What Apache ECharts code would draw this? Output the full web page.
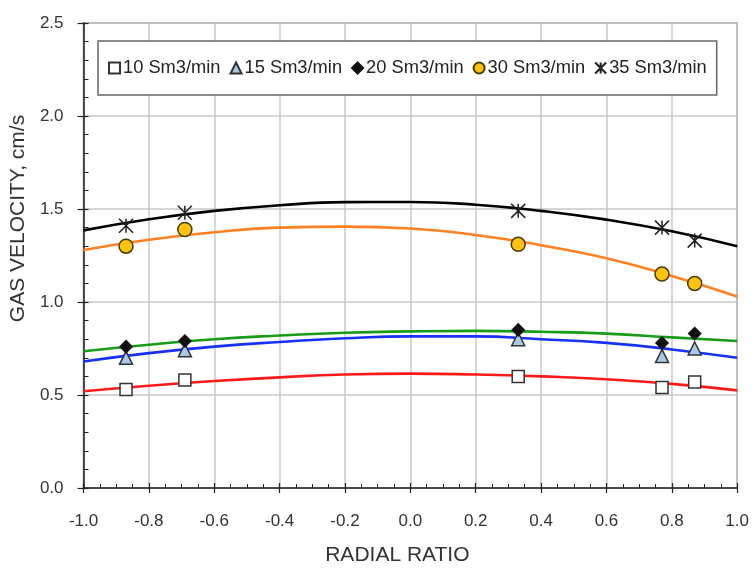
<!DOCTYPE html>
<html>
<head>
<meta charset="utf-8">
<script src="https://cdn.jsdelivr.net/npm/echarts@6/dist/echarts.min.js"></script>
<style>
html,body{margin:0;padding:0;background:#fff;}
#chart{width:752px;height:571px;}
</style>
</head>
<body>
<div id="chart"></div>
<script>
// Measured points
const xPoints = [-0.87, -0.69, 0.33, 0.77, 0.87];
const v10 = [0.53, 0.58, 0.60, 0.54, 0.57];
const v15 = [0.70, 0.74, 0.80, 0.71, 0.75];
const v20 = [0.76, 0.79, 0.85, 0.78, 0.83];
const v30 = [1.30, 1.39, 1.31, 1.15, 1.10];
const v35 = [1.41, 1.48, 1.49, 1.40, 1.33];

// Fitted curves
const xCurve = [-1.0, -0.8, -0.6, -0.4, -0.2, 0.0, 0.2, 0.4, 0.6, 0.8, 1.0];
const fit10 = [0.52, 0.55, 0.575, 0.595, 0.61, 0.615, 0.61, 0.60, 0.585, 0.56, 0.525];
const fit15 = [0.68, 0.725, 0.76, 0.785, 0.805, 0.815, 0.815, 0.80, 0.78, 0.745, 0.70];
const fit20 = [0.735, 0.77, 0.80, 0.82, 0.835, 0.842, 0.845, 0.84, 0.83, 0.81, 0.79];
const fit30 = [1.28, 1.335, 1.375, 1.40, 1.405, 1.395, 1.36, 1.305, 1.235, 1.14, 1.03];
const fit35 = [1.385, 1.445, 1.49, 1.52, 1.537, 1.538, 1.523, 1.49, 1.443, 1.38, 1.30];

const names = ['10 Sm3/min', '15 Sm3/min', '20 Sm3/min', '30 Sm3/min', '35 Sm3/min'];
const xTicks = [-1.0, -0.8, -0.6, -0.4, -0.2, 0.0, 0.2, 0.4, 0.6, 0.8, 1.0];
const yTicks = [0.0, 0.5, 1.0, 1.5, 2.0, 2.5];

const FONT = '"Liberation Sans", Arial, sans-serif';
const pairs = a => a.map((v, i) => [xPoints[i], v]);
const cpairs = a => a.map((v, i) => [xCurve[i], v]);

const markers = [
  {data: v10, symbol: 'rect', size: 12, fill: '#ffffff', border: '#333333'},
  {data: v15, symbol: 'triangle', size: 13, fill: '#a9c9e8', border: '#333333'},
  {data: v20, symbol: 'diamond', size: 12, fill: '#111111', border: '#111111'},
  {data: v30, symbol: 'circle', size: 14, fill: '#ffc20e', border: '#4a3a00'},
  {data: v35, symbol: 'path://M0,0L10,10M10,0L0,10M5,0L5,10', size: 14, fill: 'rgba(0,0,0,0)', border: '#222222'}
];
const curves = [
  {data: fit10, color: '#ff1a1a'},
  {data: fit15, color: '#1530ff'},
  {data: fit20, color: '#169c16'},
  {data: fit30, color: '#ff8020'},
  {data: fit35, color: '#000000'}
];

const series = [];
curves.forEach((c, i) => {
  series.push({
    name: names[i] + ' fit', type: 'line', data: cpairs(c.data),
    smooth: 0.5, showSymbol: false, symbol: 'none', silent: true,
    lineStyle: {color: c.color, width: 2.6}, z: 2,
    xAxisIndex: 0, yAxisIndex: 0
  });
});
markers.forEach((m, i) => {
  series.push({
    name: names[i], type: 'scatter', data: pairs(m.data),
    symbol: m.symbol, symbolSize: m.size,
    itemStyle: {color: m.fill, borderColor: m.border, borderWidth: 1.5, opacity: 1},
    z: 5, xAxisIndex: 0, yAxisIndex: 0
  });
});

const fmt = v => Number(v).toFixed(1);

const option = {
  animation: false,
  backgroundColor: '#ffffff',
  grid: {left: 82, right: 14, top: 23, bottom: 80, show: true, borderColor: '#7a7a7a', borderWidth: 1.5, backgroundColor: 'transparent'},
  legend: {
    data: names,
    left: 98, top: 41,
    orient: 'horizontal',
    itemWidth: 11, itemHeight: 11, itemGap: 9,
    padding: [18, 10, 18, 10],
    borderColor: '#666666', borderWidth: 1.5, backgroundColor: '#ffffff',
    textStyle: {fontFamily: FONT, fontSize: 18.3, color: '#222222', padding: [0, 0, 0, -2]},
    z: 10
  },
  xAxis: [
    {
      type: 'value', min: xTicks[0], max: xTicks[xTicks.length - 1], interval: 0.2,
      position: 'bottom',
      name: 'RADIAL RATIO', nameLocation: 'middle', nameGap: 57,
      nameTextStyle: {fontFamily: FONT, fontSize: 21, color: '#333333', padding: [0, 26, 0, 0]},
      axisLine: {show: true, onZero: false, lineStyle: {color: '#222222', width: 1.5}},
      axisTick: {show: true, inside: false, length: 5, lineStyle: {color: '#222222', width: 1.2}},
      minorTick: {show: false},
      axisLabel: {fontFamily: FONT, fontSize: 17, color: '#333333', margin: 25, formatter: fmt},
      splitLine: {show: true, lineStyle: {color: '#c8c8c8', width: 1.5}}
    },
    {
      type: 'value', min: xTicks[0], max: xTicks[xTicks.length - 1], interval: 0.2,
      position: 'bottom', offset: 0,
      axisLine: {show: false, onZero: false},
      axisTick: {show: true, inside: true, length: 5, lineStyle: {color: '#222222', width: 1.2}},
      minorTick: {show: true, splitNumber: 4, length: 4, lineStyle: {color: '#222222', width: 1}},
      axisLabel: {show: false},
      splitLine: {show: false}
    }
  ],
  yAxis: [
    {
      type: 'value', min: yTicks[0], max: yTicks[yTicks.length - 1], interval: 0.5,
      position: 'left',
      name: 'GAS VELOCITY, cm/s', nameLocation: 'middle', nameGap: 31, nameRotate: 90,
      nameTextStyle: {fontFamily: FONT, fontSize: 21, color: '#333333', padding: [0, 0, 0, 74]},
      axisLine: {show: true, onZero: false, lineStyle: {color: '#222222', width: 1.5}},
      axisTick: {show: true, inside: false, length: 6, lineStyle: {color: '#222222', width: 1.2}},
      minorTick: {show: false},
      axisLabel: {fontFamily: FONT, fontSize: 17, color: '#333333', margin: 20, formatter: fmt},
      splitLine: {show: true, lineStyle: {color: '#c8c8c8', width: 1.5}}
    },
    {
      type: 'value', min: yTicks[0], max: yTicks[yTicks.length - 1], interval: 0.5,
      position: 'left', offset: 0,
      axisLine: {show: false, onZero: false},
      axisTick: {show: true, inside: true, length: 5, lineStyle: {color: '#222222', width: 1.2}},
      minorTick: {show: true, splitNumber: 5, length: 5, lineStyle: {color: '#222222', width: 1}},
      axisLabel: {show: false},
      splitLine: {show: false}
    }
  ],
  series: series
};

const chart = echarts.init(document.getElementById('chart'), null, {renderer: 'canvas'});
chart.setOption(option);
</script>
</body>
</html>
